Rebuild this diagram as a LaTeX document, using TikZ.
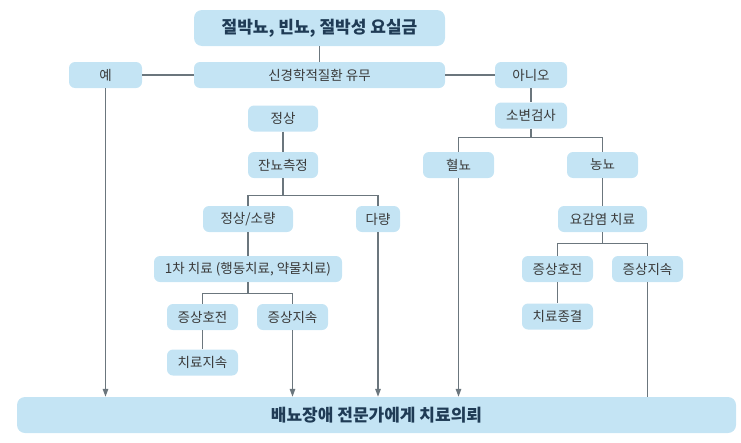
\documentclass[tikz,border=0pt]{standalone}
\usepackage{fontspec}
\setmainfont{Noto Sans CJK KR}
\usetikzlibrary{arrows.meta}
\definecolor{boxblue}{HTML}{C4E4F4}
\definecolor{linegray}{HTML}{6B767D}
\definecolor{txtgray}{HTML}{3A3A3A}
\definecolor{titleblue}{HTML}{1F3B55}

\begin{document}
\begin{tikzpicture}[x=1pt, y=-1pt,
    box/.style={fill=boxblue, rounded corners=6pt, minimum height=26pt, minimum width=71pt,
        inner sep=0pt, text=txtgray, font=\fontsize{13.5}{15}\selectfont},
    bigbox/.style={box, rounded corners=8pt, minimum height=36pt, text=titleblue,
        font=\fontsize{17}{19}\selectfont\bfseries},
    link/.style={draw=linegray, line width=1.4pt},
    arrow/.style={link, -{Triangle[length=8pt,width=5.5pt]}}]
    \useasboundingbox (0,0) rectangle (741,442);

    % Top of the chart
    \node[bigbox, minimum width=251pt] (title) at (319.5,28) {절박뇨, 빈뇨, 절박성 요실금};
    \node[box, minimum width=251pt] (neuro) at (319.5,75) {신경학적질환 유무};
    \node[box, minimum width=73pt] (yes) at (105.5,75) {예};
    \node[box, minimum width=72pt] (no) at (531,75) {아니오};

    % Left branch
    \node[box, minimum width=70pt] (normal) at (283,118.5) {정상};
    \node[box, minimum width=70pt] (residual) at (283,165) {잔뇨측정};
    \node[box, minimum width=90pt] (small) at (248,219) {정상/소량};
    \node[box, minimum width=44pt] (large) at (378,219) {다량};
    \node[box, minimum width=188pt] (first) at (248,269) {1차 치료 (행동치료, 약물치료)};
    \node[box] (betterA) at (202.5,317) {증상호전};
    \node[box] (persistA) at (292.5,317) {증상지속};
    \node[box] (keep) at (202.5,362.5) {치료지속};

    % Right branch
    \node[box, minimum width=72pt] (urine) at (531,115.5) {소변검사};
    \node[box] (blood) at (458.5,165) {혈뇨};
    \node[box] (pus) at (602.5,165) {농뇨};
    \node[box, minimum width=89pt] (uti) at (602.5,219) {요감염 치료};
    \node[box] (betterB) at (557.5,269) {증상호전};
    \node[box] (persistB) at (647.5,269) {증상지속};
    \node[box] (finish) at (557.5,316.5) {치료종결};

    % Referral
    \node[bigbox, minimum width=719pt] (refer) at (376.5,415) {배뇨장애 전문가에게 치료의뢰};

    % Connectors
    \draw[link] (title) -- (neuro);
    \draw[link] (yes) -- (neuro);
    \draw[link] (neuro) -- (no);
    \draw[link] (no) -- (urine);
    \draw[link] (normal) -- (residual);
    \draw[link] (residual.south) -- ++(0,17) coordinate (splitA);
    \draw[link] (small.north) |- (splitA) -| (large.north);
    \draw[link] (small) -- (first);
    \draw[link] (first.south) -- ++(0,11) coordinate (splitB);
    \draw[link] (betterA.north) |- (splitB) -| (persistA.north);
    \draw[link] (betterA) -- (keep);
    \draw[link] (urine.south) -- ++(0,9) coordinate (splitC);
    \draw[link] (blood.north) |- (splitC) -| (pus.north);
    \draw[link] (pus) -- (uti);
    \draw[link] (uti.south) -- ++(0,11) coordinate (splitD);
    \draw[link] (betterB.north) |- (splitD) -| (persistB.north);
    \draw[link] (betterB) -- (finish);
    \draw[link] (persistB) -- (persistB |- refer.north);

    % Arrows into the referral box
    \foreach \n in {yes,persistA,large,blood}
      \draw[arrow] (\n) -- (\n |- refer.north);
\end{tikzpicture}
\end{document}
